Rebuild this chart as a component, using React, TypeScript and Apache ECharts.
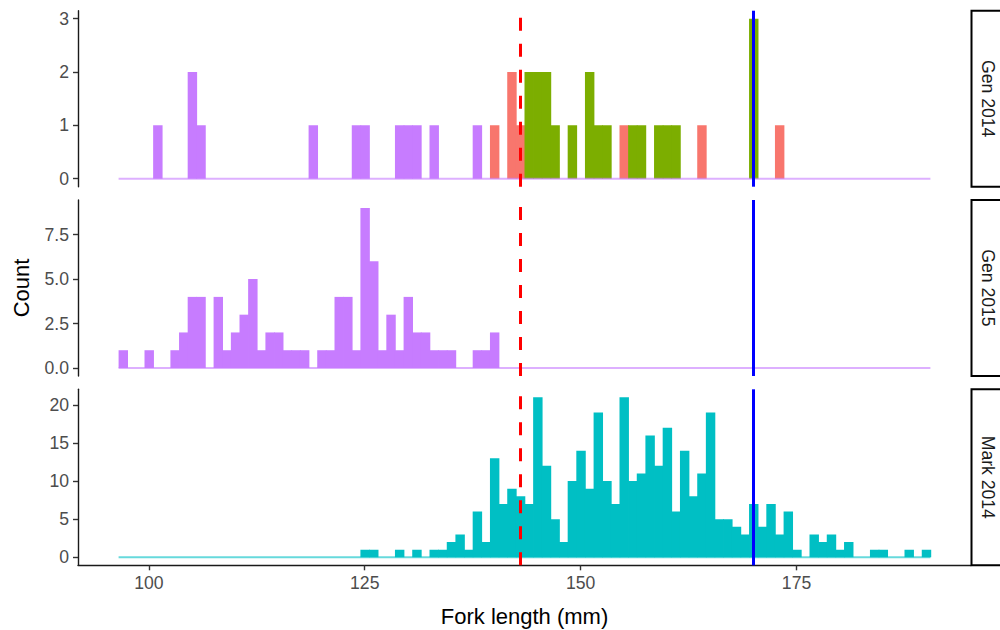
import React, { useEffect, useRef } from "react";
import * as echarts from "echarts";

// ---------- data (1 mm bins, centred on integers) ----------
const BIN_MIN = 97;
const BIN_MAX = 190;

const gen2014Purple: [number, number][] = [
  [101, 1], [105, 2], [106, 1], [119, 1], [124, 1], [125, 1], [129, 1], [130, 1], [131, 1], [133, 1], [138, 1],
];
const gen2014Salmon: [number, number][] = [
  [140, 1], [142, 2], [143, 1], [155, 1], [164, 1], [173, 1],
];
const gen2014Green: [number, number][] = [
  [144, 2], [145, 2], [146, 2], [147, 1], [149, 1], [151, 2], [152, 1], [153, 1], [156, 1], [157, 1],
  [159, 1], [160, 1], [161, 1], [170, 3],
];

const gen2015Start = 97;
const gen2015Counts = [
  1, 0, 0, 1, 0, 0, 1, 2, 4, 4,
  0, 4, 1, 2, 3, 5, 1, 2, 2, 1,
  1, 1, 0, 1, 1, 4, 4, 1, 9, 6,
  1, 3, 1, 4, 2, 2, 1, 1, 1, 0,
  0, 1, 1, 2,
];

const mark2014Start = 125;
const mark2014Counts = [
  1, 1, 0, 0, 1, 0, 1, 0, 1, 1,
  2, 3, 1, 6, 2, 13, 7, 9, 8, 7,
  21, 12, 5, 2, 10, 14, 9, 19, 10, 7,
  21, 10, 11, 16, 12, 17, 6, 14, 8, 11,
  19, 5, 5, 4, 3, 7, 4, 7, 3, 6,
  1, 0, 3, 2, 3, 1, 2, 0, 0, 1,
  1, 0, 0, 1, 0, 1,
];

const RED_LINE = 143;
const BLUE_LINE = 170;

const panelLabels = ["Gen 2014", "Gen 2015", "Mark 2014"];
const yTicks = [
  [0, 1, 2, 3],
  [0, 2.5, 5, 7.5],
  [0, 5, 10, 15, 20],
];
const yMaxCounts = [3, 9, 21];
const xTicks = [100, 125, 150, 175];

// ---------- styling / layout ----------
const PURPLE = "#C77CFF";
const SALMON = "#F8766D";
const GREEN = "#7CAE00";
const TEAL = "#00BFC4";
const FONT = "'Liberation Sans', Arial, sans-serif";

const GRID_LEFT = 78;
const GRID_RIGHT_X = 971;
const PANEL_TOPS = [10.7, 200, 389.3];
const PANEL_H = 176;
const X_MIN = 91.8;
const X_MAX = 195.2;

const toPairs = (start: number, counts: number[]): [number, number][] =>
  counts.map((c, i) => [start + i, c] as [number, number]).filter((p) => p[1] > 0);

const hexA = (hex: string, a: number) => {
  const r = parseInt(hex.slice(1, 3), 16);
  const g = parseInt(hex.slice(3, 5), 16);
  const b = parseInt(hex.slice(5, 7), 16);
  return `rgba(${r},${g},${b},${a})`;
};

const barSeries = (idx: number, data: [number, number][], color: string) => ({
  type: "custom",
  xAxisIndex: idx,
  yAxisIndex: idx,
  data,
  encode: { x: 0, y: 1 },
  clip: true,
  z: 2,
  silent: true,
  renderItem: (_params: any, api: any) => {
    const x = api.value(0);
    const y = api.value(1);
    const a = api.coord([x - 0.5, y]);
    const b = api.coord([x + 0.5, 0]);
    return {
      type: "rect",
      shape: { x: a[0], y: a[1], width: b[0] - a[0] + 0.8, height: b[1] - a[1] },
      style: { fill: color },
    };
  },
});

const baseSeries = (idx: number, color: string) => ({
  type: "line",
  xAxisIndex: idx,
  yAxisIndex: idx,
  data: [
    [BIN_MIN - 0.5, 0],
    [BIN_MAX + 0.5, 0],
  ],
  symbol: "none",
  silent: true,
  z: 3,
  lineStyle: { color: hexA(color, 0.6), width: 2 },
  markLine: {
    symbol: ["none", "none"],
    silent: true,
    label: { show: false },
    emphasis: { disabled: true },
    data: [
      { xAxis: RED_LINE, lineStyle: { color: "#FF0000", type: [13, 13], width: 3 } },
      { xAxis: BLUE_LINE, lineStyle: { color: "#0000FF", type: "solid", width: 3 } },
    ],
  },
});

export default function App() {
  const ref = useRef<HTMLDivElement>(null);

  useEffect(() => {
    if (!ref.current) return;
    const chart = echarts.init(ref.current, null, { renderer: "svg" });

    const grids = PANEL_TOPS.map((t) => ({
      left: GRID_LEFT,
      width: GRID_RIGHT_X - GRID_LEFT,
      top: t,
      height: PANEL_H,
      containLabel: false,
    }));

    const xAxes = PANEL_TOPS.map((_, i) => {
      const bottom = i === 2;
      return {
        gridIndex: i,
        type: "value",
        min: X_MIN,
        max: X_MAX,
        show: bottom,
        splitLine: { show: false },
        axisLine: { show: bottom, onZero: false, lineStyle: { color: "#1a1a1a", width: 1.4 } },
        axisTick: {
          show: bottom,
          length: 5,
          customValues: xTicks,
          lineStyle: { color: "#333", width: 1.4 },
        },
        axisLabel: {
          show: bottom,
          customValues: xTicks,
          color: "#4D4D4D",
          fontSize: 17.6,
          fontFamily: FONT,
          margin: 9,
        },
      };
    });

    const yAxes = PANEL_TOPS.map((_, i) => {
      const m = yMaxCounts[i];
      const pad = m * 0.05;
      return {
        gridIndex: i,
        type: "value",
        min: -pad,
        max: m + pad,
        splitLine: { show: false },
        axisLine: { show: true, onZero: false, lineStyle: { color: "#1a1a1a", width: 1.4 } },
        axisTick: {
          show: true,
          length: 5,
          customValues: yTicks[i],
          lineStyle: { color: "#333", width: 1.4 },
        },
        axisLabel: {
          customValues: yTicks[i],
          color: "#4D4D4D",
          fontSize: 17.6,
          fontFamily: FONT,
          margin: 9,
          formatter: (v: number) => (i === 1 ? v.toFixed(1) : String(v)),
        },
      };
    });

    const series: any[] = [
      baseSeries(0, PURPLE),
      barSeries(0, gen2014Salmon, SALMON),
      barSeries(0, gen2014Green, GREEN),
      barSeries(0, gen2014Purple, PURPLE),
      baseSeries(1, PURPLE),
      barSeries(1, toPairs(gen2015Start, gen2015Counts), PURPLE),
      baseSeries(2, TEAL),
      barSeries(2, toPairs(mark2014Start, mark2014Counts), TEAL),
    ];

    const stripGraphics: any[] = [];
    PANEL_TOPS.forEach((t, i) => {
      stripGraphics.push({
        type: "rect",
        shape: { x: GRID_RIGHT_X + 0.5, y: t, width: 40, height: PANEL_H },
        style: { fill: "#FFFFFF", stroke: "#000000", lineWidth: 2 },
        z: 10,
      });
      stripGraphics.push({
        type: "text",
        x: 988,
        y: t + PANEL_H / 2,
        rotation: -Math.PI / 2,
        style: {
          text: panelLabels[i],
          fill: "#1A1A1A",
          fontSize: 17.6,
          fontFamily: FONT,
          align: "center",
          verticalAlign: "middle",
        },
        z: 11,
      });
    });

    chart.setOption({
      animation: false,
      backgroundColor: "#FFFFFF",
      grid: grids,
      xAxis: xAxes,
      yAxis: yAxes,
      series,
      graphic: [
        ...stripGraphics,
        {
          type: "text",
          x: (GRID_LEFT + GRID_RIGHT_X) / 2,
          y: 616,
          style: {
            text: "Fork length (mm)",
            fill: "#000000",
            fontSize: 22,
            fontFamily: FONT,
            align: "center",
            verticalAlign: "middle",
          },
        },
        {
          type: "text",
          x: 21,
          y: (PANEL_TOPS[0] + PANEL_TOPS[2] + PANEL_H) / 2,
          rotation: Math.PI / 2,
          style: {
            text: "Count",
            fill: "#000000",
            fontSize: 22,
            fontFamily: FONT,
            align: "center",
            verticalAlign: "middle",
          },
        },
      ],
    });

    return () => chart.dispose();
  }, []);

  return (
    <div
      ref={ref}
      style={{ position: "fixed", left: 0, top: 0, width: 1000, height: 630, background: "#fff" }}
    />
  );
}
